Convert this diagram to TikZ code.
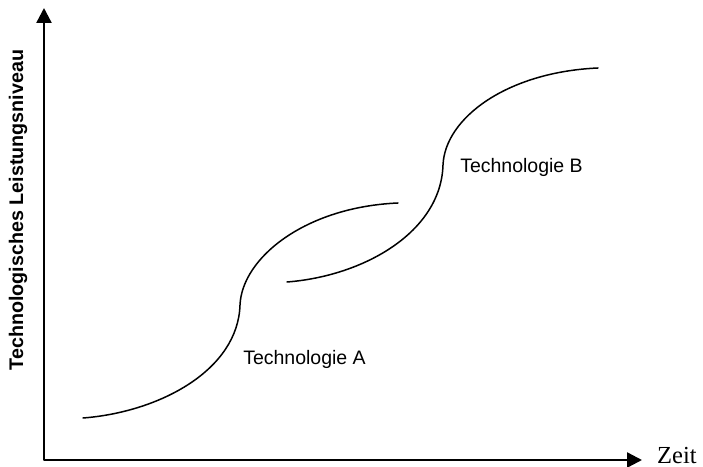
\documentclass[tikz,border=0pt]{standalone}
\usepackage{fontspec}
\setmainfont{Liberation Serif}
\setsansfont{Liberation Sans}
\usetikzlibrary{arrows.meta}

\tikzset{
  axis/.style={line width=2.4bp, line join=round,
    {Triangle[length=15bp,width=15bp]}-{Triangle[length=15bp,width=15bp]}},
  scurve/.style={line width=1.5bp, line cap=round},
  curvelabel/.style={font=\sffamily\fontsize{19.5bp}{22bp}\selectfont, inner sep=0pt, anchor=base},
  axislabel/.style={inner sep=0pt}
}

\begin{document}
\begin{tikzpicture}[x=1bp, y=-1bp]
  \useasboundingbox (0,0) rectangle (703,467);

  % axes
  \coordinate (origin) at (44,460);
  \coordinate (ytip) at (44,8);
  \coordinate (xtip) at (642,460);
  \draw[axis] (ytip) -- (origin) -- (xtip);

  % axis labels
  \node[axislabel, anchor=base west, font=\rmfamily\fontsize{24.5bp}{28bp}\selectfont]
    (xlabel) at (657,463) {Zeit};
  \node[axislabel, rotate=90, font=\sffamily\bfseries\fontsize{19.7bp}{22bp}\selectfont]
    (ylabel) at (18,210) {Technologisches Leistungsniveau};

  % S-curve of technology A
  \coordinate (a0) at (83,418);
  \coordinate (a1) at (240,305);
  \coordinate (a2) at (398,203);
  \draw[scurve] (a0) .. controls (160,412) and (238,370) .. (a1)
                     .. controls (242,258) and (305,207) .. (a2);

  % S-curve of technology B
  \coordinate (b0) at (287,282);
  \coordinate (b1) at (443,165);
  \coordinate (b2) at (598,68);
  \draw[scurve] (b0) .. controls (364,276) and (441,232) .. (b1)
                     .. controls (445,118) and (507,72) .. (b2);

  % curve labels
  \node[curvelabel] (labelA) at (304.5,364) {Technologie A};
  \node[curvelabel] (labelB) at (521.5,173) {Technologie B};
\end{tikzpicture}
\end{document}
